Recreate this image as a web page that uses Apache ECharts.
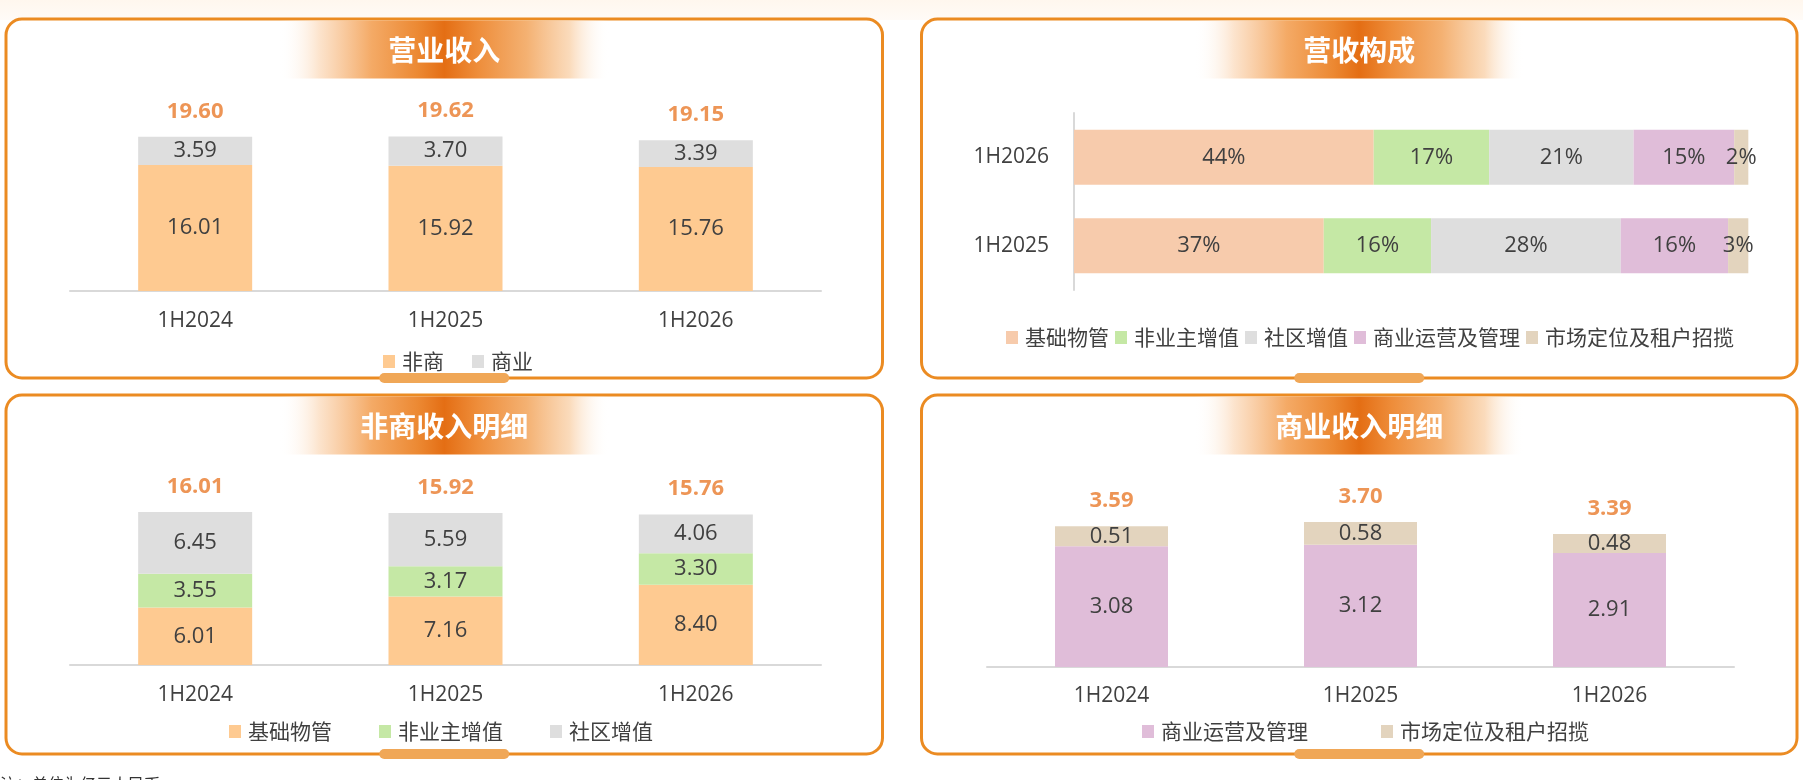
<!DOCTYPE html>
<html>
<head>
<meta charset="utf-8">
<script src="https://cdn.jsdelivr.net/npm/echarts@6/dist/echarts.min.js"></script>
<style>
html,body{margin:0;padding:0;background:#ffffff;}
#main{width:1803px;height:780px;}
</style>
</head>
<body>
<div id="main"></div>
<script>
// ---------- data ----------
const cats = ['1H2024', '1H2025', '1H2026'];
// 营业收入
const revNonCommercial = [16.01, 15.92, 15.76];
const revCommercial = [3.59, 3.70, 3.39];
const revTotal = [19.60, 19.62, 19.15];
// 营收构成 (%)
const mixCats = ['1H2025', '1H2026'];
const mixBasic = [37.0, 44.4];
const mixNonOwner = [15.9, 17.1];
const mixCommunity = [28.1, 21.4];
const mixCommOps = [15.9, 14.9];
const mixLeasing = [3.0, 2.1];
// 非商收入明细
const basicPM = [6.01, 7.16, 8.40];
const nonOwnerVAS = [3.55, 3.17, 3.30];
const communityVAS = [6.45, 5.59, 4.06];
const nonCommTotal = [16.01, 15.92, 15.76];
// 商业收入明细
const commOps = [3.08, 3.12, 2.91];
const leasing = [0.51, 0.58, 0.48];
const commTotal = [3.59, 3.70, 3.39];

const titles = ['营业收入', '营收构成', '非商收入明细', '商业收入明细'];
const note = '注：单位为亿元人民币';

// ---------- styles ----------
const FONT = "'Open Sans','Noto Sans CJK SC',sans-serif";
const CJK = "'Noto Sans CJK SC',sans-serif";
const TXT = '#404040';
const C_PEACH = '#FECA91';
const C_SALMON = '#F7CBAC';
const C_GREEN = '#C5E8A5';
const C_GRAY = '#DEDEDE';
const C_PINK = '#E0BDD9';
const C_TAN = '#E3D4BE';
const C_TOTAL = '#E87A2C';
const BORDER = '#EB8B22';

const chart = echarts.init(document.getElementById('main'), null, {renderer: 'canvas'});

const panels = [
  {x: 6, y: 19, w: 876.5, h: 359},
  {x: 921.5, y: 19, w: 875.5, h: 359},
  {x: 6, y: 395, w: 876.5, h: 359},
  {x: 921.5, y: 395, w: 875.5, h: 359}
];

const graphics = [
  {type: 'rect', shape: {x: 0, y: 0, width: 1803, height: 20},
    style: {fill: new echarts.graphic.LinearGradient(0, 0, 0, 1, [
      {offset: 0, color: '#FFF7EE'}, {offset: 1, color: '#FFFBF7'}])}, z: -10, silent: true}
];
panels.forEach((p, i) => {
  const cx = p.x + p.w / 2;
  graphics.push({type: 'rect', shape: {x: p.x, y: p.y, width: p.w, height: p.h, r: 16},
    style: {fill: '#ffffff', stroke: BORDER, lineWidth: 3}, z: -5, silent: true});
  graphics.push({type: 'rect', shape: {x: cx - 165, y: p.y + 1.5, width: 330, height: 58},
    style: {fill: new echarts.graphic.LinearGradient(0, 0, 1, 0, [
      {offset: 0, color: 'rgba(255,255,255,0)'},
      {offset: 0.12, color: 'rgba(252,225,200,0.9)'},
      {offset: 0.28, color: '#F4AA66'},
      {offset: 0.42, color: '#EC8933'},
      {offset: 0.5, color: '#E46E14'},
      {offset: 0.6, color: '#EE8D3A'},
      {offset: 0.75, color: '#F4B172'},
      {offset: 0.88, color: 'rgba(250,215,180,0.9)'},
      {offset: 1, color: 'rgba(255,255,255,0)'}
    ])}, z: -4, silent: true});
  graphics.push({type: 'text', x: cx, y: p.y + 31, z: 5, silent: true,
    style: {text: titles[i], fill: '#ffffff', font: "bold 28px 'Noto Sans CJK SC',sans-serif",
      textAlign: 'center', textVerticalAlign: 'middle',
      shadowColor: 'rgba(120,50,0,0.25)', shadowBlur: 2}});
  graphics.push({type: 'rect', shape: {x: cx - 65, y: p.y + p.h - 5, width: 130, height: 10, r: 5},
    style: {fill: '#F0A757'}, z: -3, silent: true});
});
graphics.push({type: 'text', x: 0, y: 776, silent: true,
  style: {text: note, fill: '#333333', font: "16px 'Noto Sans CJK SC',sans-serif", textVerticalAlign: 'top'}});

const catAxis = (gi, margin) => ({
  type: 'category', gridIndex: gi, data: cats,
  axisLine: {show: true, lineStyle: {color: '#D9D9D9', width: 2}},
  axisTick: {show: false},
  axisLabel: {color: TXT, fontSize: 21, margin: margin, fontFamily: FONT}
});
const valAxis = (gi, max) => ({type: 'value', gridIndex: gi, min: 0, max: max, show: false, splitLine: {show: false}});

const barLabel = {show: true, position: 'inside', color: TXT, fontSize: 22, fontFamily: FONT,
  formatter: p => p.value.toFixed(2)};
const pctLabel = {show: true, position: 'inside', color: TXT, fontSize: 22, fontFamily: FONT,
  formatter: p => Math.round(p.value) + '%'};

function stackBar(name, data, color, xi, stack, width) {
  return {type: 'bar', name: name, data: data, xAxisIndex: xi, yAxisIndex: xi, stack: stack,
    barWidth: width, itemStyle: {color: color}, label: barLabel, emphasis: {disabled: true}};
}
function totalSeries(data, xi) {
  return {type: 'scatter', name: 'total' + xi, data: data, xAxisIndex: xi, yAxisIndex: xi,
    symbolSize: 1, itemStyle: {color: 'rgba(0,0,0,0)'}, silent: true,
    label: {show: true, position: 'top', distance: 14, color: C_TOTAL, fontSize: 22, fontWeight: 'bold',
      fontFamily: FONT, formatter: p => p.value.toFixed(2)}};
}
function mixBar(name, data, color) {
  return {type: 'bar', name: name, data: data, xAxisIndex: 1, yAxisIndex: 1, stack: 'mix',
    barWidth: 55, itemStyle: {color: color}, label: pctLabel, emphasis: {disabled: true}};
}
const legendBase = {orient: 'horizontal', icon: 'rect', itemWidth: 12, itemHeight: 13,
  textStyle: {color: TXT, fontSize: 21, fontFamily: CJK, padding: [0, 0, 0, 2]}, selectedMode: false};

const option = {
  backgroundColor: '#ffffff',
  animation: false,
  textStyle: {fontFamily: FONT},
  graphic: graphics,
  grid: [
    {left: 70, right: 982, top: 133.6, bottom: 489},
    {left: 1074, right: 54, top: 113, bottom: 490},
    {left: 70, right: 982, top: 474, bottom: 115},
    {left: 987, right: 69, top: 510.2, bottom: 113}
  ],
  xAxis: [
    catAxis(0, 20),
    {type: 'value', gridIndex: 1, min: 0, max: 100, show: false, splitLine: {show: false}},
    catAxis(2, 20),
    catAxis(3, 19)
  ],
  yAxis: [
    valAxis(0, 20),
    {type: 'category', gridIndex: 1, data: mixCats,
      axisLine: {show: true, lineStyle: {color: '#D9D9D9', width: 2}},
      axisTick: {show: false},
      axisLabel: {color: TXT, fontSize: 21, margin: 25, fontFamily: FONT}},
    valAxis(2, 20),
    valAxis(3, 4)
  ],
  legend: [
    Object.assign({}, legendBase, {left: 378, top: 346, itemGap: 28,
      data: [{name: '非商', itemStyle: {color: C_PEACH}}, {name: '商业', itemStyle: {color: C_GRAY}}]}),
    Object.assign({}, legendBase, {left: 1001, top: 322, itemGap: 6,
      data: [{name: '基础物管', itemStyle: {color: C_SALMON}}, {name: '非业主增值', itemStyle: {color: C_GREEN}},
        {name: '社区增值', itemStyle: {color: C_GRAY}}, {name: '商业运营及管理', itemStyle: {color: C_PINK}},
        {name: '市场定位及租户招揽', itemStyle: {color: C_TAN}}]}),
    Object.assign({}, legendBase, {left: 224, top: 716, itemGap: 47,
      data: [{name: '基础物管', itemStyle: {color: C_PEACH}}, {name: '非业主增值', itemStyle: {color: C_GREEN}},
        {name: '社区增值', itemStyle: {color: C_GRAY}}]}),
    Object.assign({}, legendBase, {left: 1137, top: 716, itemGap: 73,
      data: [{name: '商业运营及管理', itemStyle: {color: C_PINK}}, {name: '市场定位及租户招揽', itemStyle: {color: C_TAN}}]})
  ],
  series: [
    stackBar('非商', revNonCommercial, C_PEACH, 0, 'rev', 114),
    stackBar('商业', revCommercial, C_GRAY, 0, 'rev', 114),
    totalSeries(revTotal, 0),

    mixBar('基础物管', mixBasic, C_SALMON),
    mixBar('非业主增值', mixNonOwner, C_GREEN),
    mixBar('社区增值', mixCommunity, C_GRAY),
    mixBar('商业运营及管理', mixCommOps, C_PINK),
    mixBar('市场定位及租户招揽', mixLeasing, C_TAN),

    stackBar('基础物管', basicPM, C_PEACH, 2, 'nc', 114),
    stackBar('非业主增值', nonOwnerVAS, C_GREEN, 2, 'nc', 114),
    stackBar('社区增值', communityVAS, C_GRAY, 2, 'nc', 114),
    totalSeries(nonCommTotal, 2),

    stackBar('商业运营及管理', commOps, C_PINK, 3, 'cm', 113),
    stackBar('市场定位及租户招揽', leasing, C_TAN, 3, 'cm', 113),
    totalSeries(commTotal, 3)
  ]
};
chart.setOption(option);
</script>
</body>
</html>
